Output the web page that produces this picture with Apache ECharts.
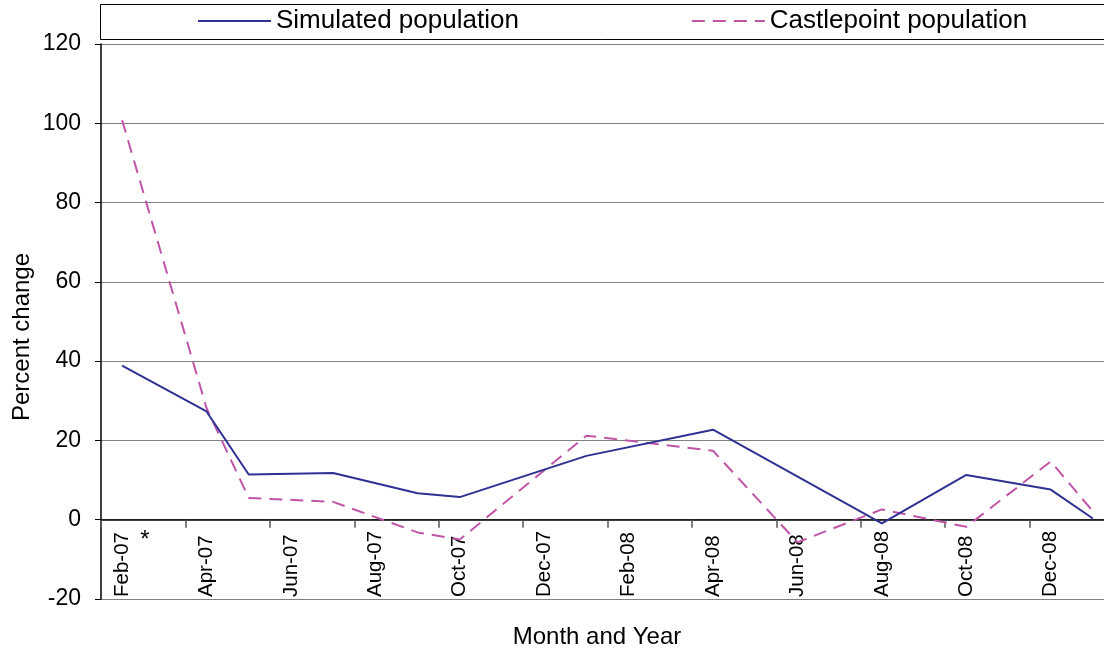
<!DOCTYPE html>
<html>
<head>
<meta charset="utf-8">
<script src="https://cdn.jsdelivr.net/npm/echarts@6/dist/echarts.min.js"></script>
<style>
html,body{margin:0;padding:0;background:#fff;}
#chart{width:1104px;height:655px;}
</style>
</head>
<body>
<div id="chart"></div>
<script>
var months = ['Feb-07','Mar-07','Apr-07','May-07','Jun-07','Jul-07','Aug-07','Sep-07','Oct-07','Nov-07','Dec-07','Jan-08',
              'Feb-08','Mar-08','Apr-08','May-08','Jun-08','Jul-08','Aug-08','Sep-08','Oct-08','Nov-08','Dec-08','Jan-09'];
var simulated   = [38.9, null, 27.3, 11.4, null, 11.8, null, 6.7, 5.7, null, null, 16.1,
                   null, null, 22.7, null, null, null, -0.9, null, 11.3, null, 7.6, 0.3];
var castlepoint = [100.8, null, 28.2, 5.5, null, 4.5, null, -3.2, -5.0, null, null, 21.2,
                   null, null, 17.4, null, -5.7, null, 2.6, null, -1.8, null, 14.7, 2.1];
var seriesNames = ['Simulated population', 'Castlepoint population'];
var yTicks = {min: -20, max: 120, step: 20};

var FONT = '"Liberation Sans", Arial, sans-serif';
var chart = echarts.init(document.getElementById('chart'), null, {renderer: 'canvas'});
chart.setOption({
  animation: false,
  backgroundColor: '#fff',
  grid: {left: 101, top: 44, bottom: 56, right: -10, containLabel: false, outerBoundsMode: 'none'},
  legend: {
    data: seriesNames,
    left: 197, top: 8, padding: 0,
    itemWidth: 73, itemHeight: 14, itemGap: 172,
    itemStyle: {opacity: 0},
    textStyle: {fontSize: 26, color: '#000', fontFamily: FONT}
  },
  xAxis: [
    {
      type: 'category',
      data: months,
      boundaryGap: true,
      position: 'bottom',
      axisLine: {show: false, onZero: false},
      axisTick: {show: false},
      axisLabel: {interval: 1, rotate: 90, inside: true, fontSize: 20.5, color: '#000', fontFamily: FONT, margin: 2},
      splitLine: {show: false}
    },
    {
      type: 'category',
      data: months,
      boundaryGap: true,
      position: 'top',
      axisLine: {onZero: true, lineStyle: {color: '#000', width: 1.5}},
      axisTick: {show: true, interval: 1, length: 8, inside: true, lineStyle: {color: '#555', width: 1.5}},
      axisLabel: {show: false},
      splitLine: {show: false}
    }
  ],
  yAxis: {
    type: 'value',
    min: yTicks.min, max: yTicks.max, interval: yTicks.step,
    axisLine: {show: true, onZero: false, lineStyle: {color: '#000', width: 1.5}},
    axisTick: {show: true, length: 6, lineStyle: {color: '#000'}},
    axisLabel: {fontSize: 23, color: '#000', fontFamily: FONT, margin: 20},
    splitLine: {show: true, lineStyle: {color: '#808080', width: 1.2}}
  },
  series: [
    {
      name: seriesNames[0], type: 'line', data: simulated, connectNulls: true, xAxisIndex: 0,
      symbol: 'none', lineStyle: {color: '#2E3192', width: 2},
      itemStyle: {color: '#2E3192'}, z: 3
    },
    {
      name: seriesNames[1], type: 'line', data: castlepoint, connectNulls: true, xAxisIndex: 0,
      symbol: 'none', lineStyle: {color: '#C055A8', width: 2, type: [13, 8]},
      itemStyle: {color: '#C055A8'}, z: 2
    }
  ],
  graphic: [
    {type: 'rect', z: 1, shape: {x: 100.5, y: 4.5, width: 1020, height: 35},
     style: {fill: '#fff', stroke: '#000', lineWidth: 1}},
    {type: 'text', x: 22, y: 337, rotation: Math.PI / 2,
     style: {text: 'Percent change', font: '24px ' + FONT, fill: '#000', align: 'center', verticalAlign: 'middle'}},
    {type: 'text', x: 597, y: 637,
     style: {text: 'Month and Year', font: '24px ' + FONT, fill: '#000', align: 'center', verticalAlign: 'middle'}},
    {type: 'text', x: 145, y: 540,
     style: {text: '*', font: '24px ' + FONT, fill: '#000', align: 'center', verticalAlign: 'middle'}}
  ]
});
</script>
</body>
</html>
